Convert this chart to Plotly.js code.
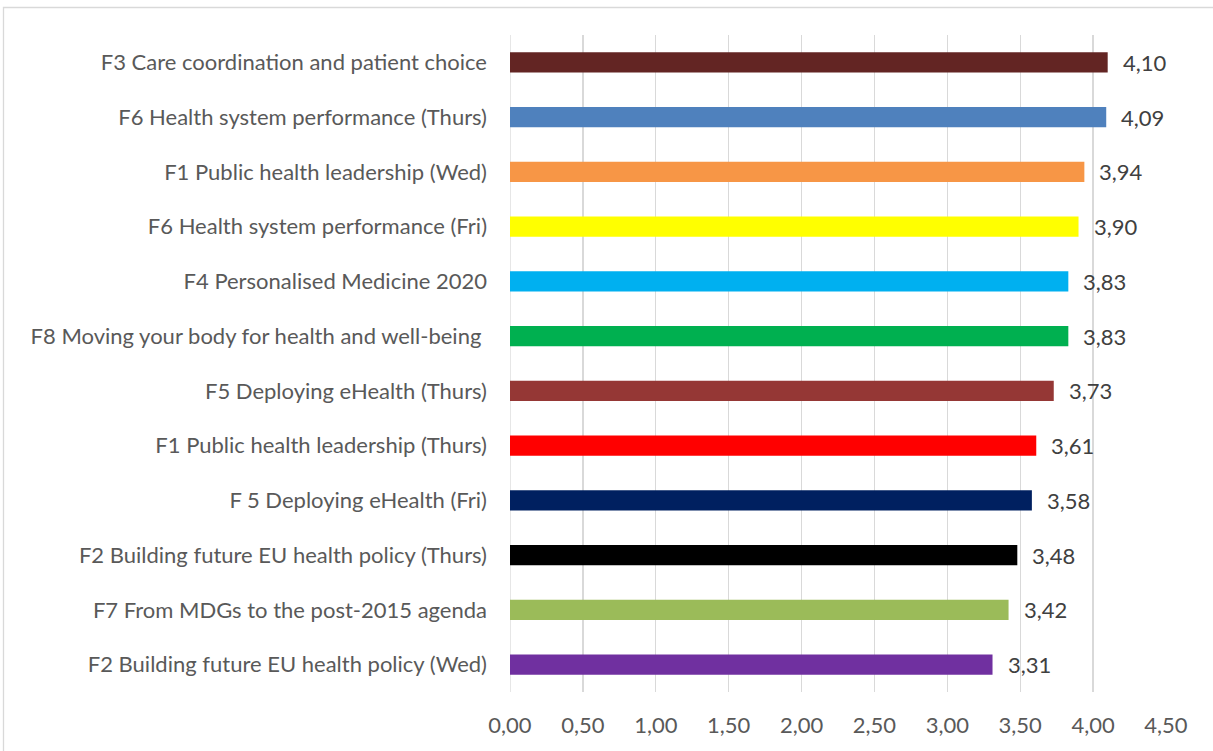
<!DOCTYPE html>
<html>
<head>
<meta charset="utf-8">
<script src="https://cdn.plot.ly/plotly-3.0.1.min.js"></script>
<style>
html,body{margin:0;padding:0;background:#fff;overflow:hidden;}
#chart{width:1213px;height:751px;}
</style>
</head>
<body>
<div id="chart"></div>
<script>
const categories = [
  "F3 Care coordination and patient choice",
  "F6 Health system performance (Thurs)",
  "F1 Public health leadership (Wed)",
  "F6 Health system performance (Fri)",
  "F4 Personalised Medicine 2020",
  "F8 Moving your body for health and well-being ",
  "F5 Deploying eHealth (Thurs)",
  "F1 Public health leadership (Thurs)",
  "F 5 Deploying eHealth (Fri)",
  "F2 Building future EU health policy (Thurs)",
  "F7 From MDGs to the post-2015 agenda",
  "F2 Building future EU health policy (Wed)"
];
const values = [4.10, 4.09, 3.94, 3.90, 3.83, 3.83, 3.73, 3.61, 3.58, 3.48, 3.42, 3.31];
const barColors = ["#632523","#4F81BD","#F79646","#FFFF00","#00B0F0","#00B050","#953735","#FF0000","#002060","#000000","#9BBB59","#7030A0"];
const xTicks = [0,0.5,1,1.5,2,2.5,3,3.5,4,4.5];

const fmt = v => v.toFixed(2).replace('.', ',');
const FONT = "Lato, 'Open Sans', sans-serif";
const FS = 22;

const margin = {l:510, r:47, t:35, b:59};
const W = 1213, H = 751;
const pw = W - margin.l - margin.r, ph = H - margin.t - margin.b;
const px2x = p => (p - margin.l) / pw;
const py2y = p => 1 - (p - margin.t) / ph;

const trace = {
  type: 'bar',
  orientation: 'h',
  y: categories,
  x: values,
  marker: {color: barColors},
  width: 0.37,
  hoverinfo: 'none'
};

const annotations = categories.map((c, i) => ({
  x: values[i], y: c, xref: 'x', yref: 'y',
  text: fmt(values[i]), showarrow: false,
  xanchor: 'left', yanchor: 'middle', xshift: 13,
  font: {family: FONT, size: FS, color: '#404040'}
}));

const layout = {
  width: W, height: H,
  margin: margin,
  paper_bgcolor: '#fff', plot_bgcolor: '#fff',
  separators: ', ',
  showlegend: false,
  font: {family: FONT, size: FS, color: '#595959'},
  xaxis: {
    range: [0, 4.5], tickvals: xTicks, tickformat: '.2f',
    showgrid: true, gridcolor: '#D9D9D9', gridwidth: 1.3,
    zeroline: false, showline: false, ticks: '',
    ticklabelstandoff: 18,
    tickfont: {family: FONT, size: FS, color: '#595959'},
    fixedrange: true
  },
  yaxis: {
    autorange: 'reversed', type: 'category',
    showgrid: false, zeroline: false, showline: false, ticks: '',
    ticklabelstandoff: 22,
    tickfont: {family: FONT, size: FS, color: '#595959'},
    fixedrange: true
  },
  annotations: annotations,
  shapes: [
    {type: 'line', xref: 'x', yref: 'paper', x0: 0, x1: 0, y0: 0, y1: 1,
     line: {color: '#D9D9D9', width: 1.3}, layer: 'below'},
    {type: 'rect', xref: 'paper', yref: 'paper',
     x0: px2x(3.5), x1: px2x(1230), y0: py2y(7.5), y1: py2y(770),
     line: {color: '#D9D9D9', width: 1.3}, fillcolor: 'rgba(0,0,0,0)', layer: 'below'}
  ]
};

Plotly.newPlot('chart', [trace], layout, {displayModeBar: false, staticPlot: true});
</script>
</body>
</html>
